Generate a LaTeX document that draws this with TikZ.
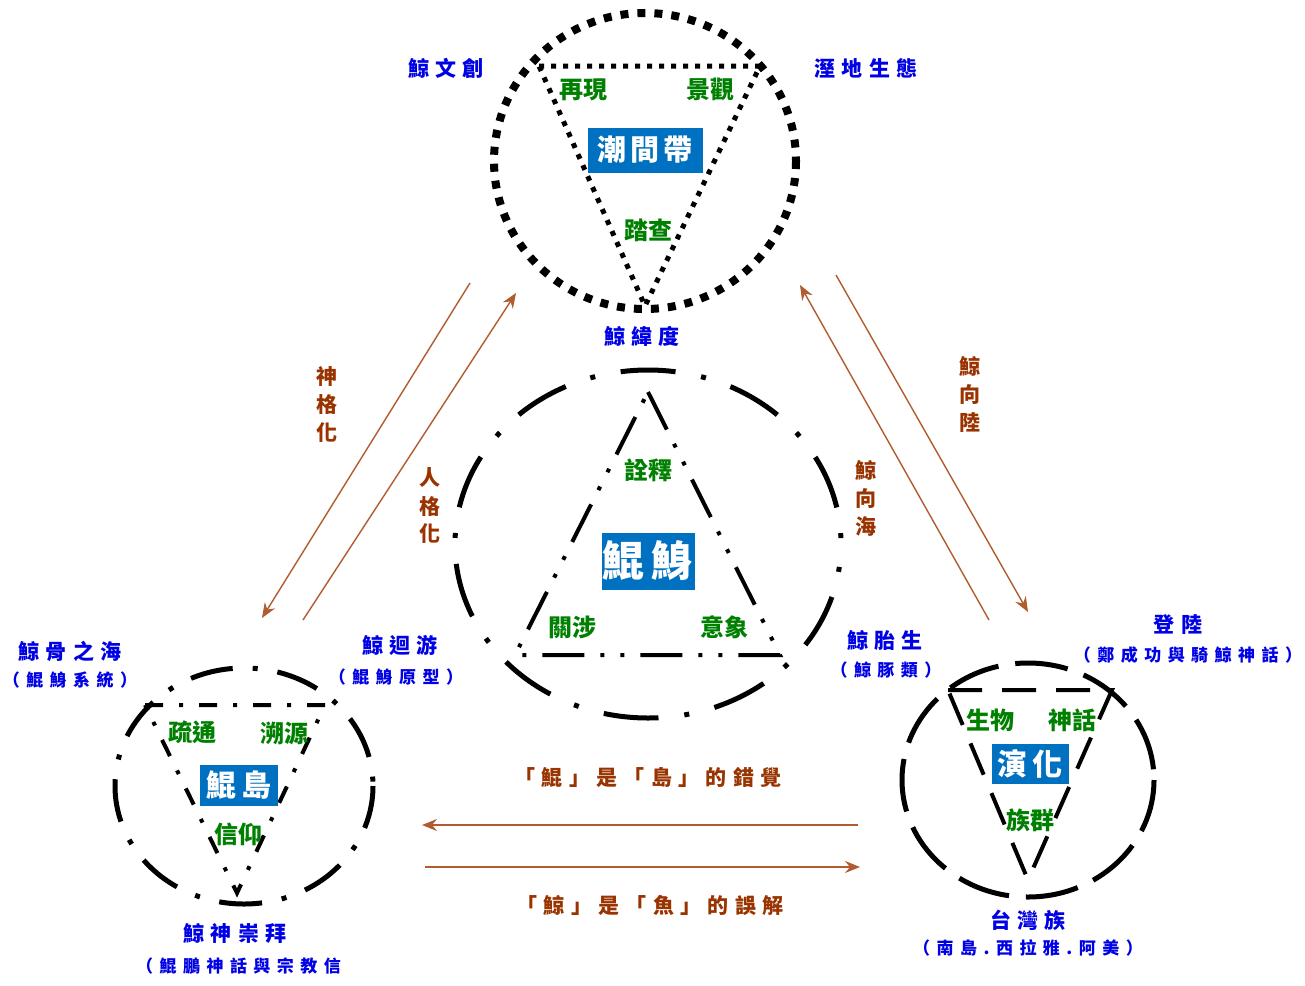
\documentclass[tikz,border=0pt]{standalone}
\usepackage{fontspec}
\usetikzlibrary{arrows.meta}
\newfontfamily\cjkreg{Noto Sans CJK TC}
\newfontfamily\cjkblue{Noto Sans CJK TC}[LetterSpace=30]
\newfontfamily\cjkpar{Noto Sans CJK TC}[LetterSpace=38]
\newfontfamily\cjkbox{Noto Sans CJK TC}[LetterSpace=15]
\definecolor{lblue}{RGB}{0,0,230}
\definecolor{lgreen}{RGB}{0,128,0}
\definecolor{lbrown}{RGB}{153,51,0}
\definecolor{arrc}{RGB}{176,92,48}
\definecolor{boxblue}{RGB}{0,112,192}
\begin{document}
\begin{tikzpicture}[x=1pt,y=-1pt,
  bl/.style={text=lblue,font=\cjkblue\bfseries\fontsize{21}{21}\selectfont,inner sep=0pt},
  blp/.style={text=lblue,font=\cjkpar\bfseries\fontsize{17}{17}\selectfont,inner sep=0pt},
  gr/.style={text=lgreen,font=\cjkreg\bfseries\fontsize{24}{24}\selectfont,inner sep=0pt},
  br/.style={text=lbrown,font=\cjkreg\bfseries\fontsize{21}{28}\selectfont,inner sep=0pt,align=center},
  brh/.style={text=lbrown,font=\cjkblue\bfseries\fontsize{21}{21}\selectfont,inner sep=0pt},
  bx/.style={fill=boxblue,text=white,font=\cjkbox\bfseries\fontsize{#1}{#1}\selectfont,inner sep=0pt},
  arr/.style={draw=arrc,line width=1.4pt,-{Stealth[length=15pt,width=12pt,inset=5pt]}},
  dotbig/.style={line width=8pt,dash pattern=on 8pt off 9pt},
  dotsmall/.style={line width=5pt,dash pattern=on 5pt off 7pt},
  midell/.style={line width=5pt,dash pattern=on 55pt off 26pt on 5pt off 26pt,dash phase=58pt},
  midtri/.style={line width=4pt,dash pattern=on 42pt off 16pt on 4pt off 16pt on 4pt off 16pt},
  blell/.style={line width=5pt,dash pattern=on 43pt off 20pt on 5pt off 20pt},
  bltri/.style={line width=4pt,dash pattern=on 18pt off 16pt on 4pt off 16pt},
  brell/.style={line width=5pt,dash pattern=on 53pt off 17pt},
  brtri/.style={line width=4pt,dash pattern=on 34pt off 20pt}]
\useasboundingbox[fill=white] (0,0) rectangle (1305,985);

% ---------- top circle ----------
\draw[dotbig] (645,161) ellipse [x radius=151, y radius=148];
\draw[dotsmall] (539,66) -- (760,66) -- (645,306) -- cycle;
\node[bx=29,minimum width=115pt,minimum height=45pt] (tidal) at (645,150) {潮間帶};
\node[gr] (zaixian) at (583,90) {再現};
\node[gr] (jingguan) at (710,89) {景觀};
\node[gr] (tacha) at (648,230) {踏查};
\node[bl] (wenchuang) at (446,68) {鯨文創};
\node[bl] (shidi) at (866,68) {溼地生態};
\node[bl] (weidu) at (642,336) {鯨緯度};

% ---------- middle circle ----------
\draw[midell] (648,544) ellipse [x radius=193, y radius=174];
\draw[midtri] (648,392) -- (780,655) -- (515,655) -- cycle;
\node[bx=42,minimum width=93pt,minimum height=57pt] (kunshen) at (648,561) {鯤鯓};
\node[gr] (quanshi) at (648,470) {詮釋};
\node[gr] (guanshe) at (572,627) {關涉};
\node[gr] (yixiang) at (724,627) {意象};

% ---------- bottom-left circle ----------
\draw[blell] (244,786) ellipse [x radius=129, y radius=118];
\draw[bltri] (145,705) -- (325,705) -- (237,893) -- cycle;
\node[bx=30,minimum width=78pt,minimum height=41pt] (kundao) at (239,785) {鯤島};
\node[gr] (shutong) at (192,732) {疏通};
\node[gr] (suyuan) at (284,733) {溯源};
\node[gr] (xinyang) at (238,834) {信仰};
\node[bl] (gu) at (70,651) {鯨骨之海};
\node[blp] (gup) at (70,680) {（鯤鯓系統）};
\node[bl] (huiyou) at (400,645) {鯨迴游};
\node[blp] (huiyoup) at (396,677) {（鯤鯓原型）};
\node[bl] (chongbai) at (235,933) {鯨神崇拜};
\node[blp,anchor=west] (chongbaip) at (136,966) {（鯤鵬神話與宗教信};

% ---------- bottom-right circle ----------
\draw[brell] (1028,780) ellipse [x radius=126, y radius=117];
\draw[brtri] (948,690) -- (1112,690) -- (1028,880) -- cycle;
\node[bx=30,minimum width=77pt,minimum height=40pt] (yanhua) at (1030,764) {演化};
\node[gr] (shengwu) at (990,720) {生物};
\node[gr] (shenhua) at (1072,720) {神話};
\node[gr] (zuqun) at (1030,820) {族群};
\node[bl] (taisheng) at (885,640) {鯨胎生};
\node[blp] (taishengp) at (886,670) {（鯨豚類）};
\node[bl] (denglu) at (1178,625) {登陸};
\node[blp] (denglup) at (1188,655) {（鄭成功與騎鯨神話）};
\node[bl] (taiwan) at (1028,920) {台灣族};
\node[blp] (taiwanp) at (1028,948) {（南島.西拉雅.阿美）};

% ---------- arrows ----------
\coordinate (l1s) at (470,283); \coordinate (l1e) at (262,618);
\coordinate (l2s) at (303,620); \coordinate (l2e) at (516,293);
\coordinate (r1s) at (989,620); \coordinate (r1e) at (800,285);
\coordinate (r2s) at (836,275); \coordinate (r2e) at (1028,612);
\coordinate (h1s) at (858,825); \coordinate (h1e) at (422,825);
\coordinate (h2s) at (425,867); \coordinate (h2e) at (860,867);
\draw[arr] (l1s) -- (l1e);
\draw[arr] (l2s) -- (l2e);
\draw[arr] (r1s) -- (r1e);
\draw[arr] (r2s) -- (r2e);
\draw[arr] (h1s) -- (h1e);
\draw[arr] (h2s) -- (h2e);

\node[br] (shenge) at (327,404) {神\\格\\化};
\node[br] (renge) at (430,506) {人\\格\\化};
\node[br] (xianglu) at (970,394) {鯨\\向\\陸};
\node[br] (xianghai) at (866,498) {鯨\\向\\海};
\node[brh] (cuojue) at (648,777) {「鯤」是「島」的錯覺};
\node[brh] (wujie) at (650,905) {「鯨」是「魚」的誤解};
\end{tikzpicture}
\end{document}
